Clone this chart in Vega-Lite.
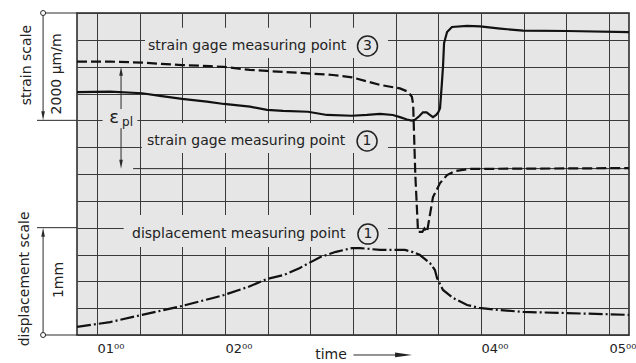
{
  "$schema": "https://vega.github.io/schema/vega-lite/v6.json",
  "width": 552,
  "height": 322,
  "autosize": {"type": "none"},
  "padding": {"left": 77, "top": 13, "right": 7, "bottom": 28},
  "background": "#ffffff",
  "config": {
    "view": {"stroke": "#222222", "strokeWidth": 1.5, "fill": "#e6e6e6"},
    "font": "DejaVu Sans",
    "axis": {"gridColor": "#3a3a3a", "gridWidth": 1, "gridOpacity": 1}
  },
  "datasets": {
    "curves": [
      {"s": "p1", "t": 50.6, "v": 9.05}, {"s": "p1", "t": 66.1, "v": 9.07}, {"s": "p1", "t": 81.1, "v": 9.01}, {"s": "p1", "t": 89.5, "v": 8.91}, {"s": "p1", "t": 99.8, "v": 8.80}, {"s": "p1", "t": 111.5, "v": 8.70}, {"s": "p1", "t": 119.5, "v": 8.61}, {"s": "p1", "t": 131.7, "v": 8.51}, {"s": "p1", "t": 139.7, "v": 8.39}, {"s": "p1", "t": 147.2, "v": 8.35}, {"s": "p1", "t": 158.9, "v": 8.32}, {"s": "p1", "t": 167.8, "v": 8.20}, {"s": "p1", "t": 179.5, "v": 8.17}, {"s": "p1", "t": 186.6, "v": 8.20}, {"s": "p1", "t": 192.7, "v": 8.24}, {"s": "p1", "t": 198.7, "v": 8.20}, {"s": "p1", "t": 202.0, "v": 8.12}, {"s": "p1", "t": 205.3, "v": 8.03}, {"s": "p1", "t": 207.5, "v": 7.99}, {"s": "p1", "t": 209.0, "v": 8.02}, {"s": "p1", "t": 211.0, "v": 8.15}, {"s": "p1", "t": 212.8, "v": 8.30}, {"s": "p1", "t": 214.5, "v": 8.30}, {"s": "p1", "t": 216.5, "v": 8.18}, {"s": "p1", "t": 217.5, "v": 8.12}, {"s": "p1", "t": 219.0, "v": 8.20}, {"s": "p1", "t": 220.0, "v": 8.30}, {"s": "p1", "t": 220.8, "v": 8.45}, {"s": "p1", "t": 221.6, "v": 9.3}, {"s": "p1", "t": 222.2, "v": 10.0}, {"s": "p1", "t": 222.7, "v": 10.88}, {"s": "p1", "t": 224.1, "v": 11.29}, {"s": "p1", "t": 226.4, "v": 11.48}, {"s": "p1", "t": 233.5, "v": 11.52}, {"s": "p1", "t": 239.6, "v": 11.50}, {"s": "p1", "t": 249.0, "v": 11.42}, {"s": "p1", "t": 259.7, "v": 11.34}, {"s": "p1", "t": 280.3, "v": 11.33}, {"s": "p1", "t": 309.4, "v": 11.29},
      {"s": "p3", "t": 50.6, "v": 10.19}, {"s": "p3", "t": 66.1, "v": 10.19}, {"s": "p3", "t": 81.1, "v": 10.15}, {"s": "p3", "t": 99.8, "v": 10.06}, {"s": "p3", "t": 113.0, "v": 10.02}, {"s": "p3", "t": 119.5, "v": 9.99}, {"s": "p3", "t": 131.7, "v": 9.88}, {"s": "p3", "t": 139.7, "v": 9.84}, {"s": "p3", "t": 158.9, "v": 9.75}, {"s": "p3", "t": 170.6, "v": 9.69}, {"s": "p3", "t": 179.5, "v": 9.60}, {"s": "p3", "t": 192.7, "v": 9.32}, {"s": "p3", "t": 202.0, "v": 9.19}, {"s": "p3", "t": 205.7, "v": 9.07}, {"s": "p3", "t": 207.6, "v": 8.88}, {"s": "p3", "t": 208.2, "v": 8.6}, {"s": "p3", "t": 209.2, "v": 6.0}, {"s": "p3", "t": 210.5, "v": 3.84}, {"s": "p3", "t": 212.5, "v": 3.84}, {"s": "p3", "t": 213.5, "v": 3.97}, {"s": "p3", "t": 214.7, "v": 3.84}, {"s": "p3", "t": 217.5, "v": 5.14}, {"s": "p3", "t": 220.8, "v": 5.66}, {"s": "p3", "t": 224.1, "v": 5.96}, {"s": "p3", "t": 227.8, "v": 6.11}, {"s": "p3", "t": 234.9, "v": 6.19}, {"s": "p3", "t": 309.4, "v": 6.22},
      {"s": "d1", "t": 50.6, "v": 0.30}, {"s": "d1", "t": 66.1, "v": 0.48}, {"s": "d1", "t": 81.1, "v": 0.75}, {"s": "d1", "t": 99.8, "v": 1.08}, {"s": "d1", "t": 113.0, "v": 1.35}, {"s": "d1", "t": 119.5, "v": 1.49}, {"s": "d1", "t": 130.8, "v": 1.79}, {"s": "d1", "t": 139.7, "v": 2.09}, {"s": "d1", "t": 147.7, "v": 2.24}, {"s": "d1", "t": 155.1, "v": 2.50}, {"s": "d1", "t": 164.5, "v": 2.90}, {"s": "d1", "t": 172.0, "v": 3.10}, {"s": "d1", "t": 179.5, "v": 3.24}, {"s": "d1", "t": 183.3, "v": 3.24}, {"s": "d1", "t": 192.7, "v": 3.17}, {"s": "d1", "t": 204.4, "v": 3.17}, {"s": "d1", "t": 208.1, "v": 3.09}, {"s": "d1", "t": 211.4, "v": 2.98}, {"s": "d1", "t": 216.1, "v": 2.68}, {"s": "d1", "t": 218.4, "v": 2.42}, {"s": "d1", "t": 219.4, "v": 2.12}, {"s": "d1", "t": 222.2, "v": 1.68}, {"s": "d1", "t": 226.9, "v": 1.38}, {"s": "d1", "t": 233.5, "v": 1.12}, {"s": "d1", "t": 239.1, "v": 1.01}, {"s": "d1", "t": 249.0, "v": 0.93}, {"s": "d1", "t": 259.7, "v": 0.86}, {"s": "d1", "t": 278.9, "v": 0.82}, {"s": "d1", "t": 309.4, "v": 0.75}
    ],
    "boxes": [
      {"t": 82.5, "t2": 196.4, "v": 11.45, "v2": 10.32},
      {"t": 81.0, "t2": 196.4, "v": 7.9, "v2": 6.78},
      {"t": 72.5, "t2": 196.4, "v": 4.47, "v2": 3.28},
      {"t": 62.6, "t2": 78.9, "v": 8.39, "v2": 7.71}
    ],
    "rules": [
      {"t": 34.7, "t2": 50.6, "v": 12, "v2": 12},
      {"t": 34.7, "t2": 34.7, "v": 12, "v2": 8.2},
      {"t": 31.85, "t2": 50.6, "v": 8, "v2": 8},
      {"t": 34.7, "t2": 50.6, "v": 0, "v2": 0},
      {"t": 34.7, "t2": 34.7, "v": 0, "v2": 3.8},
      {"t": 31.85, "t2": 50.6, "v": 4, "v2": 4},
      {"t": 71.25, "t2": 71.25, "v": 9.8, "v2": 8.42},
      {"t": 71.25, "t2": 71.25, "v": 7.71, "v2": 6.4},
      {"t": 76.9, "t2": 309.4, "v": 6.2, "v2": 6.2},
      {"t": 180.2, "t2": 203, "v": -0.745, "v2": -0.745}
    ],
    "heads": [
      {"t": 34.7, "v": 8, "dir": "down"},
      {"t": 34.7, "v": 4, "dir": "up"},
      {"t": 71.25, "v": 10, "dir": "up"},
      {"t": 71.25, "v": 6.2, "dir": "down"}
    ],
    "timehead": [{"t": 207.7, "v": -0.745}],
    "ends": [{"t": 34.7, "v": 12}, {"t": 34.7, "v": 0}],
    "digits": [
      {"t": 186.8, "v": 10.77, "label": "3"},
      {"t": 186.6, "v": 7.23, "label": "1"},
      {"t": 187.0, "v": 3.76, "label": "1"}
    ],
    "labels": [
      {"t": 83.9, "v": 10.77, "label": "strain gage measuring point"},
      {"t": 83.4, "v": 7.23, "label": "strain gage measuring point"},
      {"t": 76.4, "v": 3.76, "label": "displacement measuring point"}
    ],
    "vlabels": [
      {"t": 27.2, "v": 10.06, "label": "strain scale"},
      {"t": 41.0, "v": 9.73, "label": "2000 µm/m"},
      {"t": 26.25, "v": 2.09, "label": "displacement scale"},
      {"t": 42.2, "v": 2.05, "label": "1mm"}
    ],
    "eps": [{"t": 68.0, "v": 8.09, "label": "ε"}],
    "pl": [{"t": 74.3, "v": 7.94, "label": "pl"}],
    "timelabel": [{"t": 169.7, "v": -0.745, "label": "time"}]
  },
  "encoding": {
    "x": {
      "field": "t", "type": "quantitative",
      "scale": {"domain": [50.6, 309.4], "nice": false, "zero": false},
      "axis": {
        "title": null, "grid": true, "ticks": false, "tickSize": 0, "domain": false,
        "values": [60, 80, 100, 120, 140, 160, 180, 200, 220, 240, 260, 280, 300],
        "labelExpr": "datum.value % 60 == 0 && datum.value != 180 ? '0' + (datum.value / 60) + '⁰⁰' : ''",
        "labelFont": "DejaVu Sans", "labelFontSize": 13, "labelColor": "#222222",
        "labelAlign": "left", "labelDx": -9, "labelBaseline": "middle", "labelPadding": 13,
        "labelOverlap": false, "labelBound": false, "labelFlush": false
      }
    },
    "y": {
      "field": "v", "type": "quantitative",
      "scale": {"domain": [0, 12], "nice": false, "zero": false},
      "axis": {
        "title": null, "grid": true, "labels": false, "ticks": false, "domain": false,
        "values": [0, 1, 2, 3, 4, 5, 6, 7, 8, 9, 10, 11, 12]
      }
    }
  },
  "layer": [
    {
      "data": {"name": "boxes"},
      "mark": {"type": "rect", "fill": "#e6e6e6", "stroke": null},
      "encoding": {"x2": {"field": "t2"}, "y2": {"field": "v2"}}
    },
    {
      "data": {"name": "rules"},
      "mark": {"type": "rule", "color": "#2a2a2a", "strokeWidth": 1},
      "encoding": {"x2": {"field": "t2"}, "y2": {"field": "v2"}}
    },
    {
      "data": {"name": "curves"},
      "transform": [{"filter": "datum.s == 'p1'"}],
      "mark": {"type": "line", "color": "#111111", "strokeWidth": 2.2},
      "encoding": {}
    },
    {
      "data": {"name": "curves"},
      "transform": [{"filter": "datum.s == 'p3'"}],
      "mark": {"type": "line", "color": "#111111", "strokeWidth": 2.2, "strokeDash": [10, 4]},
      "encoding": {}
    },
    {
      "data": {"name": "curves"},
      "transform": [{"filter": "datum.s == 'd1'"}],
      "mark": {"type": "line", "color": "#111111", "strokeWidth": 2.2, "strokeDash": [14, 3, 2, 3]},
      "encoding": {}
    },
    {
      "data": {"name": "heads"},
      "mark": {"type": "point", "filled": true, "color": "#2a2a2a", "opacity": 1, "size": 81},
      "encoding": {
        "shape": {
          "field": "dir", "type": "nominal", "legend": null,
          "scale": {"domain": ["down", "up"], "range": ["M-0.4,-2L0.4,-2L0,0Z", "M-0.4,2L0.4,2L0,0Z"]}
        }
      }
    },
    {
      "data": {"name": "timehead"},
      "mark": {"type": "point", "filled": true, "color": "#222222", "opacity": 1, "size": 289, "shape": "M-2,-0.28L-2,0.28L0,0Z"}
    },
    {
      "data": {"name": "ends"},
      "mark": {"type": "point", "filled": false, "color": "#2a2a2a", "fill": "#ffffff", "fillOpacity": 1, "opacity": 1, "size": 25, "strokeWidth": 1, "shape": "circle"}
    },
    {
      "data": {"name": "digits"},
      "mark": {"type": "point", "filled": false, "color": "#222222", "opacity": 1, "size": 400, "strokeWidth": 1.5, "shape": "circle"}
    },
    {
      "data": {"name": "digits"},
      "mark": {"type": "text", "font": "DejaVu Sans", "fontSize": 14, "color": "#222222", "align": "center", "baseline": "middle"},
      "encoding": {"text": {"field": "label"}}
    },
    {
      "data": {"name": "labels"},
      "mark": {"type": "text", "font": "DejaVu Sans", "fontSize": 14, "color": "#222222", "align": "left", "baseline": "middle"},
      "encoding": {"text": {"field": "label"}}
    },
    {
      "data": {"name": "vlabels"},
      "mark": {"type": "text", "font": "DejaVu Sans", "fontSize": 14, "color": "#222222", "align": "center", "baseline": "middle", "angle": 270},
      "encoding": {"text": {"field": "label"}}
    },
    {
      "data": {"name": "eps"},
      "mark": {"type": "text", "font": "DejaVu Sans", "fontSize": 18, "color": "#222222", "align": "center", "baseline": "middle"},
      "encoding": {"text": {"field": "label"}}
    },
    {
      "data": {"name": "pl"},
      "mark": {"type": "text", "font": "DejaVu Sans", "fontSize": 12, "color": "#222222", "align": "center", "baseline": "middle"},
      "encoding": {"text": {"field": "label"}}
    },
    {
      "data": {"name": "timelabel"},
      "mark": {"type": "text", "font": "DejaVu Sans", "fontSize": 14, "color": "#222222", "align": "center", "baseline": "middle"},
      "encoding": {"text": {"field": "label"}}
    }
  ]
}
